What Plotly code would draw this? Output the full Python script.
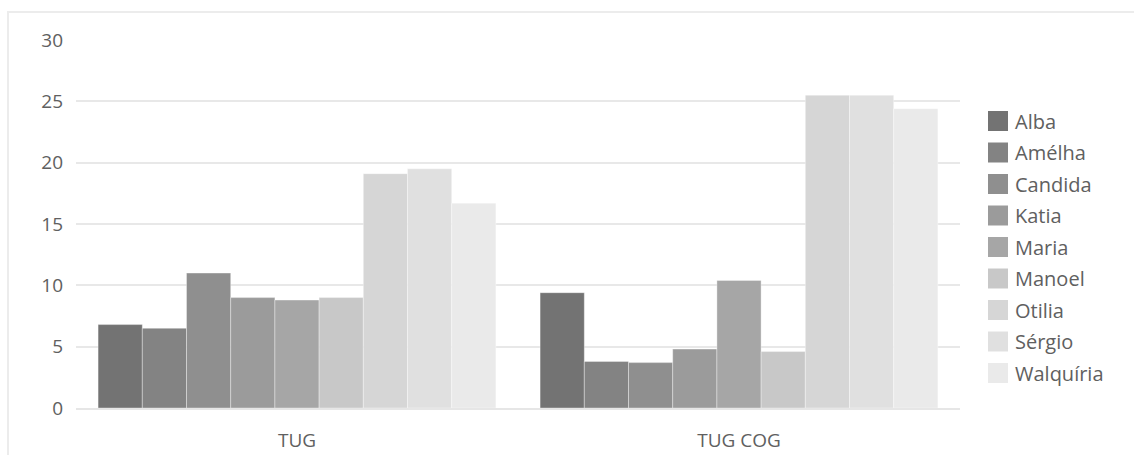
import plotly.graph_objects as go

# Chart data
categories = ["TUG", "TUG COG"]
names = ["Alba", "Amélha", "Candida", "Katia", "Maria", "Manoel", "Otilia", "Sérgio", "Walquíria"]
values = {
    "Alba":      [6.8, 9.4],
    "Amélha":    [6.5, 3.8],
    "Candida":   [11.0, 3.7],
    "Katia":     [9.0, 4.8],
    "Maria":     [8.8, 10.4],
    "Manoel":    [9.0, 4.6],
    "Otilia":    [19.1, 25.5],
    "Sérgio":    [19.5, 25.5],
    "Walquíria": [16.7, 24.4],
}
colors = ["#737373", "#838383", "#8f8f8f", "#9b9b9b", "#a6a6a6",
          "#c8c8c8", "#d6d6d6", "#e0e0e0", "#eaeaea"]
y_ticks = [0, 5, 10, 15, 20, 25, 30]

W, H = 1134, 455
ML, MR, MT, MB = 76, 174, 40, 47
PW, PH = W - ML - MR, H - MT - MB

def px_x(p):
    return (p - ML) / PW

def px_y(p):
    return (H - MB - p) / PH

FONT = "Open Sans"
TXT = "#606060"

fig = go.Figure()
for name, col in zip(names, colors):
    fig.add_trace(go.Bar(
        x=categories, y=values[name], name=name,
        marker=dict(color=col, line=dict(color="rgba(255,255,255,0.35)", width=1)),
        showlegend=False,
    ))

shapes = [
    # outer frame
    dict(type="rect", xref="paper", yref="paper",
         x0=px_x(8), x1=px_x(W + 20), y0=px_y(H + 20), y1=px_y(12),
         line=dict(color="#ececec", width=2), fillcolor="rgba(0,0,0,0)", layer="below"),
]
annotations = []
# legend: square swatch + label per series
for i, (name, col) in enumerate(zip(names, colors)):
    cy = 121 + 31.5 * i
    shapes.append(dict(type="rect", xref="paper", yref="paper",
                       x0=px_x(988), x1=px_x(1008), y0=px_y(cy + 10), y1=px_y(cy - 10),
                       fillcolor=col, line=dict(width=0)))
    annotations.append(dict(xref="paper", yref="paper", x=px_x(1013), y=px_y(cy),
                            xanchor="left", yanchor="middle", text=name, showarrow=False,
                            font=dict(family=FONT, size=20, color=TXT)))

fig.update_layout(
    width=W, height=H,
    margin=dict(l=ML, r=MR, t=MT, b=MB, autoexpand=False),
    paper_bgcolor="white", plot_bgcolor="white",
    barmode="group", bargap=0.1, bargroupgap=0,
    font=dict(family=FONT, size=19, color=TXT),
    shapes=shapes, annotations=annotations,
    showlegend=False,
)
fig.update_xaxes(showline=True, linecolor="#e6e6e6", linewidth=2, ticks="",
                 automargin=False,
                 ticklabelstandoff=14, tickfont=dict(size=19, color=TXT))
fig.update_yaxes(range=[0, 30], tickvals=y_ticks, showgrid=True, gridcolor="#e8e8e8",
                 gridwidth=2, zeroline=False, showline=False, ticks="",
                 automargin=False,
                 ticklabelstandoff=12, tickfont=dict(size=19, color=TXT))

fig.write_html("out.html")
